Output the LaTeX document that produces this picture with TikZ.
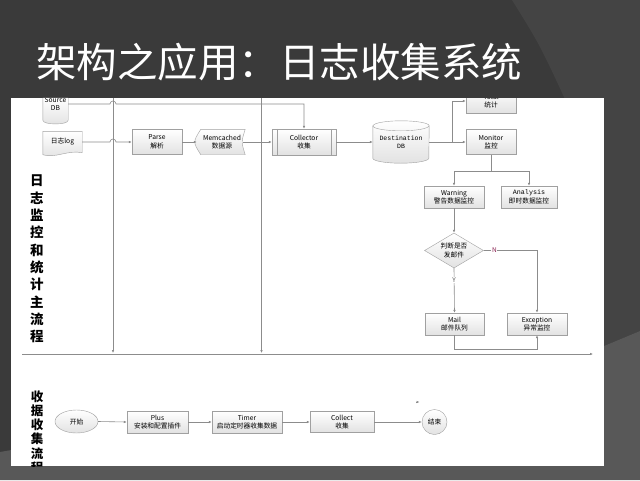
\documentclass[tikz,border=0pt]{standalone}
\usepackage{fontspec}
\setmainfont{Noto Sans CJK SC}
\newfontfamily\monofont{Liberation Mono}
\usepackage{xcolor}
\usepackage{tikz}
\usetikzlibrary{arrows.meta,positioning,shapes.geometric}
\definecolor{slidebg}{HTML}{3A3A3A}
\definecolor{slideband}{HTML}{444444}
\definecolor{slidelow}{HTML}{585858}
\definecolor{edgegray}{HTML}{8C8C8C}
\definecolor{boxline}{HTML}{A0A0A0}
\definecolor{boxshade}{HTML}{E2E2E2}
\definecolor{nred}{HTML}{8B2252}
\pgfdeclarelayer{back}
\pgfsetlayers{back,main}

\begin{document}
\begin{tikzpicture}[
      x=1pt,y=-1pt,
      box/.style={draw=boxline,top color=white,bottom color=boxshade,align=center,minimum width=50pt,minimum height=25pt,inner sep=1pt,font=\fontsize{6.7}{8.5}\selectfont},
      shp/.style={draw=boxline,top color=white,bottom color=boxshade},
      txt/.style={align=center,inner sep=1pt,font=\fontsize{6.7}{8.5}\selectfont},
      lane/.style={align=center,inner sep=0pt,text=black},
      flag/.style={fill=white,inner sep=0.6pt,font=\fontsize{6.5}{7}\selectfont,text=gray!70!black},
      wire/.style={draw=edgegray,line width=0.6pt},
      >={Latex[length=3pt,width=2.6pt]}
]
\useasboundingbox (0,0) rectangle (640,480);
\begin{pgfonlayer}{back}
\fill[slidebg] (0,0) rectangle (640,480);
\fill[slideband] (512,0) .. controls (540,45) .. (570,110) -- (604,346) -- (640,331) -- (640,0) -- cycle;
\fill[slidelow] (0,452) -- (604,346) -- (640,331) -- (640,480) -- (0,480) -- cycle;
\fill[white] (11,98) rectangle (604,466);
\end{pgfonlayer}
\node[font=\fontsize{40.5}{40.5}\selectfont,text=white,anchor=base west,inner sep=0pt] (title) at (36,77) {架构之应用：日志收集系统};

\begin{scope}
\clip (11,98) rectangle (604,466);
\node[lane,font=\bfseries\fontsize{13.5}{17.3}\selectfont] (mainlane) at (37,259) {日\\志\\监\\控\\和\\统\\计\\主\\流\\程};
\node[lane,font=\bfseries\fontsize{12.5}{14.3}\selectfont] (sublane) at (37,432) {收\\据\\收\\集\\流\\程};

\node[txt,minimum width=25pt,minimum height=40pt] (srcdb) at (55.5,104) {Source\\DB};
\node[txt,minimum width=39pt,minimum height=21pt] (logfile) at (62.5,142) {日志log};
\node[box] (parse) at (157,142) {Parse\\解析};
\node[txt,minimum width=50pt,minimum height=25pt] (memcache) at (222,142) {Memcached\\数据源};
\node[box,minimum width=64pt,minimum height=26pt] (collector) at (304,142) {Collector\\收集};
\node[txt,minimum width=56pt,minimum height=42pt,font=\monofont\fontsize{6.5}{8.5}\selectfont] (destdb) at (401,142) {Destination\\DB};
\node[box] (total) at (491,101) {Total\\统计};
\node[box] (monitor) at (491,142) {Monitor\\监控};
\node[box,minimum width=60pt,minimum height=22pt] (warning) at (454,197) {Warning\\警告数据监控};
\node[box,minimum width=56pt,minimum height=22pt] (analysis) at (529,197) {{\monofont Analysis}\\即时数据监控};
\node[box,diamond,aspect=1.7,minimum width=59pt,minimum height=35pt,inner sep=0pt] (decide) at (454,250.5) {判断是否\\发邮件};
\node[box,minimum width=59pt,minimum height=22pt] (mail) at (454.5,324) {Mail\\邮件队列};
\node[box,minimum width=60pt,minimum height=22pt] (exception) at (537,324) {Exception\\异常监控};

\node[box,ellipse,minimum width=43pt,minimum height=23pt] (start) at (76.5,421.5) {开始};
\node[box,minimum width=61pt,minimum height=22pt] (plus) at (157.5,422) {Plus\\安装和配置插件};
\node[box,minimum width=70pt,minimum height=22pt] (timer) at (247,422) {Timer\\启动定时器收集数据};
\node[box,minimum width=64pt,minimum height=21pt] (collect) at (342,422) {Collect\\收集};
\node[box,circle,minimum size=25pt,inner sep=0pt] (finish) at (434.5,422) {结束};

\begin{pgfonlayer}{back}
\path[shp] ([yshift=-14pt]srcdb.north west) -- ([yshift=4pt]srcdb.south west) .. controls ([yshift=-1pt]srcdb.south west) and ([yshift=-1pt]srcdb.south east) .. ([yshift=4pt]srcdb.south east) -- ([yshift=-14pt]srcdb.north east);
\path[shp] (logfile.north west) -- ([yshift=-2pt]logfile.south west) .. controls ([xshift=12pt,yshift=-6pt]logfile.south west) and ([xshift=-14pt,yshift=3pt]logfile.south east) .. (logfile.south east) -- (logfile.north east) -- cycle;
\path[shp] ([xshift=4pt]memcache.north west) -- ([xshift=-2pt]memcache.north east) .. controls ([xshift=-6pt]memcache.east) .. ([xshift=-2pt]memcache.south east) -- ([xshift=4pt]memcache.south west) .. controls ([xshift=-4pt]memcache.west) .. ([xshift=4pt]memcache.north west) -- cycle;
\path[shp] ([yshift=-5pt]destdb.north west) -- ([yshift=5pt]destdb.south west) arc (180:0:28 and 5) -- ([yshift=-5pt]destdb.north east) arc (0:-180:28 and 5) -- cycle;
\draw[boxline] ([yshift=-5pt]destdb.north west) arc (180:0:28 and 5);
\end{pgfonlayer}
\draw[boxline] ([xshift=5pt]collector.north west) -- ([xshift=5pt]collector.south west);
\draw[boxline] ([xshift=-5pt]collector.north east) -- ([xshift=-5pt]collector.south east);

\coordinate (hop) at (110,0);
\coordinate (split) at (452,142);
\coordinate (cut1) at (113,96);
\coordinate (cut1end) at (113,353);
\coordinate (cut2) at (261.5,96);
\coordinate (cut2end) at (261.5,353);
\coordinate (laneL) at (22,354);
\coordinate (laneR) at (593,354);
\coordinate (strayA) at (416,402);
\coordinate (strayB) at (419.5,402);

\draw[wire,->] (cut1) -- (cut1end);
\draw[wire,->] (cut2) -- (cut2end);
\draw[wire,->] (laneL) -- (laneR);
\draw[wire,->] (srcdb.east) -- (srcdb.east -| hop) arc (180:360:3) -| (collector.north);
\draw[wire,->] (logfile.east) -- (logfile.east -| hop) arc (180:360:3) -- (parse.west);
\draw[wire,->] (parse.east) -- (memcache.west);
\draw[wire,->] ([xshift=-4pt]memcache.east) -- (collector.west);
\draw[wire,->] (collector.east) -- (destdb.west);
\draw[wire,->] (destdb.east) -- (monitor.west);
\draw[wire,->] (split) |- (total.west);
\draw[wire,->] (monitor.south) -- ++(0,16.5) -| (warning.north);
\draw[wire,->] (monitor.south) -- ++(0,16.5) -| (analysis.north);
\draw[wire,->] (warning.south) -- (decide.north);
\draw[wire,->] (decide.east) -| node[flag,pos=0.1,text=nred]{N} (exception.north);
\draw[wire,->] (decide.south) -- node[flag,pos=0.27]{Y} (mail.north);
\draw[wire,->] (mail.south) -- ++(0,14) -| (exception.south);

\draw[wire,->] (start.east) -- (plus.west);
\draw[wire,->] (plus.east) -- (timer.west);
\draw[wire,->] (timer.east) -- (collect.west);
\draw[wire,->] (collect.east) -- (finish.west);
\draw[wire,->] (strayA) -- (strayB);
\end{scope}
\end{tikzpicture}
\end{document}
